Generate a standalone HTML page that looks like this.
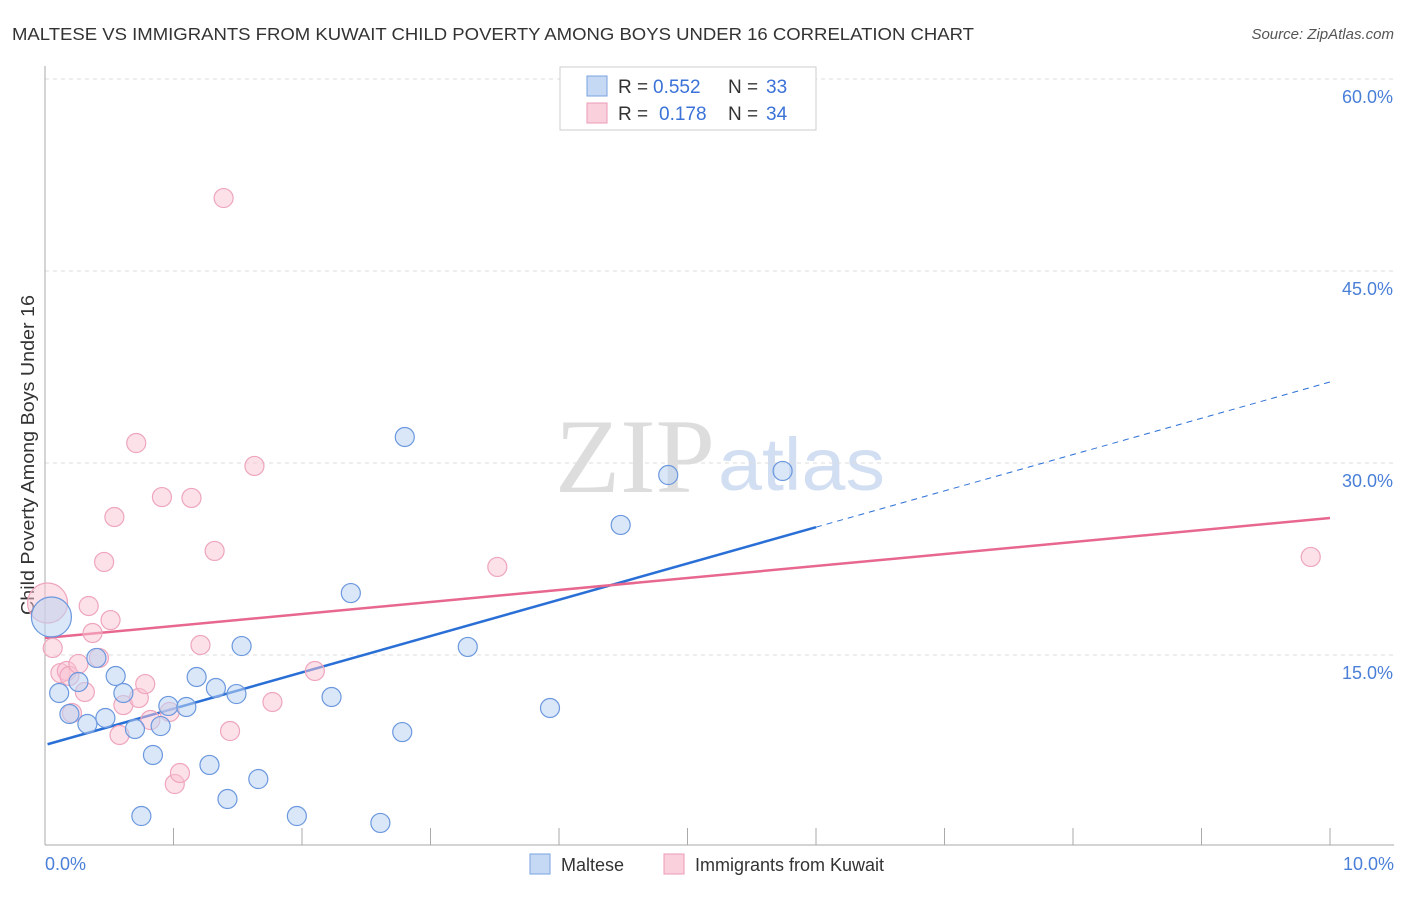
<!DOCTYPE html>
<html><head><meta charset="utf-8"><style>
body{margin:0;background:#fff;font-family:"Liberation Sans",sans-serif;}
</style></head><body>
<svg width="1406" height="892" xmlns="http://www.w3.org/2000/svg" font-family="Liberation Sans, sans-serif">
<text x="12" y="40" font-size="17.5" fill="#333" textLength="962" lengthAdjust="spacingAndGlyphs">MALTESE VS IMMIGRANTS FROM KUWAIT CHILD POVERTY AMONG BOYS UNDER 16 CORRELATION CHART</text>
<text x="1394" y="39" font-size="15" fill="#555" font-style="italic" text-anchor="end">Source: ZipAtlas.com</text>
<text x="715" y="492" font-size="106" fill="#ddd" text-anchor="end" textLength="160" lengthAdjust="spacingAndGlyphs" font-family="Liberation Serif, serif">ZIP</text>
<text x="718" y="490" font-size="74" fill="#d2def2" textLength="167" lengthAdjust="spacingAndGlyphs">atlas</text>
<g id="grid"></g>
<line x1="45" y1="66" x2="45" y2="845" stroke="#aaa"/>
<line x1="45" y1="845" x2="1394" y2="845" stroke="#aaa"/>
<g id="xticks"></g>
<text x="34" y="455" font-size="18" fill="#333" text-anchor="middle" textLength="320" lengthAdjust="spacingAndGlyphs" transform="rotate(-90 34 455)">Child Poverty Among Boys Under 16</text>
<text x="45" y="870" font-size="18" fill="#4a7fd8">0.0%</text>
<text x="1394" y="870" font-size="18" fill="#4a7fd8" text-anchor="end">10.0%</text>
<g id="lines"></g>
<g id="points"></g>
<g>
<rect x="560" y="67" width="256" height="63" fill="#fff" stroke="#ccc"/>
<rect x="587" y="76" width="20" height="20" fill="#c5d9f5" stroke="#7aa3e0"/>
<rect x="587" y="103" width="20" height="20" fill="#fbd0dd" stroke="#eb9ab5"/>
<text y="93" font-size="19" fill="#333"><tspan x="618">R =</tspan><tspan x="653" fill="#3a72d8">0.552</tspan><tspan x="728">N =</tspan><tspan x="766" fill="#3a72d8">33</tspan></text>
<text y="120" font-size="19" fill="#333"><tspan x="618">R =</tspan><tspan x="659" fill="#3a72d8">0.178</tspan><tspan x="728">N =</tspan><tspan x="766" fill="#3a72d8">34</tspan></text>
</g>
<g>
<rect x="530" y="854" width="20" height="20" fill="#c5d9f5" stroke="#7aa3e0"/>
<text x="561" y="871" font-size="18" fill="#333">Maltese</text>
<rect x="664" y="854" width="20" height="20" fill="#fbd0dd" stroke="#eb9ab5"/>
<text x="695" y="871" font-size="18" fill="#333">Immigrants from Kuwait</text>
</g>
</svg>
<script>
const yTicks=[15,30,45,60];
const yTickLabels=["15.0%","30.0%","45.0%","60.0%"];
const blueX=[0.05,0.11,0.19,0.26,0.33,0.40,0.47,0.55,0.61,0.70,0.84,0.75,0.90,0.96,1.10,1.18,1.28,1.33,1.42,1.49,1.53,1.66,1.96,2.23,2.38,2.61,2.78,2.80,3.29,3.93,4.48,4.85,5.74];
const blueY=[17.97,12.03,10.39,12.89,9.61,14.77,10.08,13.36,12.03,9.22,7.19,2.42,9.45,11.02,10.94,13.28,6.41,12.42,3.75,11.95,15.70,5.31,2.42,11.72,19.84,1.88,8.98,32.03,15.63,10.86,25.16,29.06,29.38];
const pinkX=[0.02,0.06,0.12,0.17,0.21,0.19,0.26,0.31,0.34,0.37,0.42,0.46,0.51,0.54,0.58,0.61,0.71,0.73,0.78,0.82,0.91,0.97,1.01,1.05,1.14,1.21,1.32,1.44,1.39,1.63,1.77,2.10,3.52,9.85];
const pinkY=[19.06,15.55,13.59,13.75,10.47,13.36,14.30,12.11,18.83,16.72,14.77,22.27,17.73,25.78,8.75,11.09,31.56,11.64,12.73,9.92,27.34,10.55,4.92,5.78,27.27,15.78,23.13,9.06,50.70,29.77,11.33,13.75,21.88,22.66];
const blueTrend=[7.97,36.33];
const pinkTrend=[16.33,25.70];
const NS="http://www.w3.org/2000/svg";
const X=v=>45+v*128.5, Y=v=>847-v*12.8;
function mk(t,a,p){const e=document.createElementNS(NS,t);for(const k in a)e.setAttribute(k,a[k]);document.getElementById(p).appendChild(e);return e;}
yTicks.forEach((t,i)=>{
 const l=mk('line',{x1:45,x2:1394,y1:Y(t),y2:Y(t),stroke:'#ddd','stroke-dasharray':'4,4'},'grid');
 
 
 const tx=mk('text',{x:1393,y:Y(t)+24,'font-size':18,fill:'#4a7fd8','text-anchor':'end'},'grid');
 tx.textContent=yTickLabels[i];
 
 
});
for(let i=0;i<=10;i++){
 const l=mk('line',{x1:X(i),x2:X(i),y1:828,y2:845,stroke:'#aaa'},'xticks');
 
 
}
function pts(xs,ys,fill,stroke,name,op){
 xs.forEach((x,i)=>{
  const r=(i===0)?20:9.5;
  const c=mk('circle',{cx:X(x),cy:Y(ys[i]),r:r,fill:fill,'fill-opacity':op,stroke:stroke,'stroke-width':1.2},'points');
  
  
 });
}
pts(pinkX,pinkY,'#f9c4d4','#eea5bd','kuwait-point',0.5);
pts(blueX,blueY,'#bcd4f3','#6b98de','maltese-point',0.55);
const bx=6.0;
let l=mk('line',{x1:X(0.02),y1:Y(blueTrend[0]+(blueTrend[1]-blueTrend[0])*0.002),x2:X(bx),y2:Y(blueTrend[0]+(blueTrend[1]-blueTrend[0])*bx/10),stroke:'#2a6fd6','stroke-width':2.5},'lines');


l=mk('line',{x1:X(bx),y1:Y(blueTrend[0]+(blueTrend[1]-blueTrend[0])*bx/10),x2:X(10),y2:Y(blueTrend[1]),stroke:'#2a6fd6','stroke-width':1,'stroke-dasharray':'6,5'},'lines');


l=mk('line',{x1:X(0),y1:Y(pinkTrend[0]),x2:X(10),y2:Y(pinkTrend[1]),stroke:'#e8678f','stroke-width':2.5},'lines');


</script>
</body></html>
